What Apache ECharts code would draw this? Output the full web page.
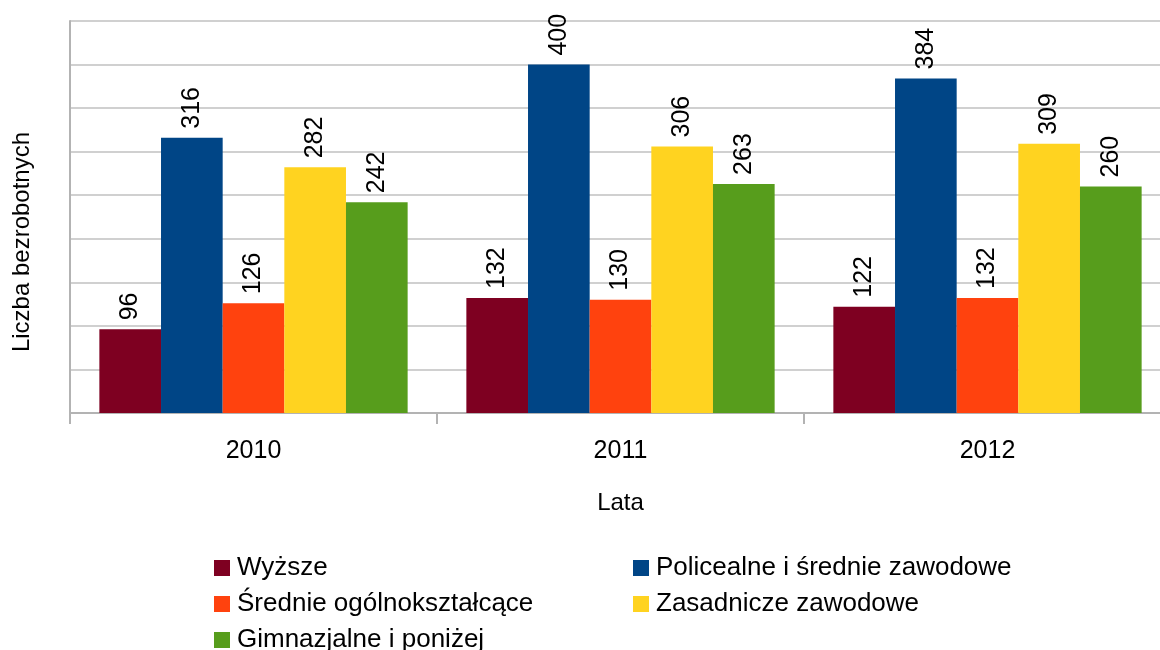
<!DOCTYPE html>
<html>
<head>
<meta charset="utf-8">
<script src="https://cdn.jsdelivr.net/npm/echarts@6/dist/echarts.min.js"></script>
<style>
  html, body { margin: 0; padding: 0; background: #fff; overflow: hidden; }
  /* wykres jest nieco szerszy niż okno - prawa krawędź jest ucięta jak w oryginale */
  #main { width: 1171px; height: 650px; }
</style>
</head>
<body>
<div id="main"></div>
<script>
// dane z wykresu
var lata = ["2010", "2011", "2012"];
var nazwy = ["Wyższe", "Policealne i średnie zawodowe", "Średnie ogólnokształcące", "Zasadnicze zawodowe", "Gimnazjalne i poniżej"];
var kolory = ["#7e0021", "#004586", "#ff420e", "#ffd320", "#579d1c"];
var wyzsze = [96, 132, 122];
var policealne = [316, 400, 384];
var srednie = [126, 130, 132];
var zasadnicze = [282, 306, 309];
var gimnazjalne = [242, 263, 260];

var wartosci = [wyzsze, policealne, srednie, zasadnicze, gimnazjalne];
var font = "Liberation Sans, Arial, sans-serif";

var myChart = echarts.init(document.getElementById("main"));

var series = wartosci.map(function (d, i) {
  return {
    name: nazwy[i],
    type: "bar",
    data: d,
    barGap: "0%",
    barCategoryGap: "16%",
    itemStyle: { color: kolory[i] },
    label: {
      show: true,
      position: "top",
      rotate: 90,
      align: "left",
      verticalAlign: "middle",
      distance: 9,
      color: "#000",
      fontSize: 25,
      fontFamily: font
    }
  };
});

var legendText = { fontSize: 26, color: "#000", fontFamily: font, padding: [0, 0, 0, 2] };

var option = {
  animation: false,
  grid: { left: 70, top: 21, right: 0, height: 392 },
  legend: [
    {
      data: [nazwy[0], nazwy[2], nazwy[4]],
      orient: "vertical",
      left: 214,
      top: 555,
      height: 110,
      padding: 0,
      itemWidth: 16,
      itemHeight: 16,
      itemGap: 10,
      icon: "rect",
      textStyle: legendText
    },
    {
      data: [nazwy[1], nazwy[3]],
      orient: "vertical",
      left: 633,
      top: 555,
      height: 110,
      padding: 0,
      itemWidth: 16,
      itemHeight: 16,
      itemGap: 10,
      icon: "rect",
      textStyle: legendText
    }
  ],
  xAxis: {
    type: "category",
    data: lata,
    name: "Lata",
    nameLocation: "middle",
    nameGap: 78,
    nameTextStyle: { fontSize: 24, color: "#000", fontFamily: font },
    axisLine: { lineStyle: { color: "#b3b3b3", width: 2 } },
    axisTick: { show: true, length: 11, lineStyle: { color: "#b3b3b3", width: 2 } },
    axisLabel: { margin: 26, fontSize: 25, color: "#000", fontFamily: font }
  },
  yAxis: {
    type: "value",
    min: 0,
    max: 450,
    interval: 50,
    axisLine: { show: true, lineStyle: { color: "#b3b3b3", width: 2 } },
    axisTick: { show: false },
    axisLabel: { show: false },
    splitLine: { lineStyle: { color: "#c0c0c0", width: 1.5 } }
  },
  graphic: [
    {
      type: "text",
      x: 22,
      y: 242,
      rotation: Math.PI / 2,
      style: {
        text: "Liczba bezrobotnych",
        fontSize: 24,
        fontFamily: font,
        fill: "#000",
        align: "center",
        verticalAlign: "middle"
      }
    }
  ],
  series: series
};

option && myChart.setOption(option);
</script>
</body>
</html>
